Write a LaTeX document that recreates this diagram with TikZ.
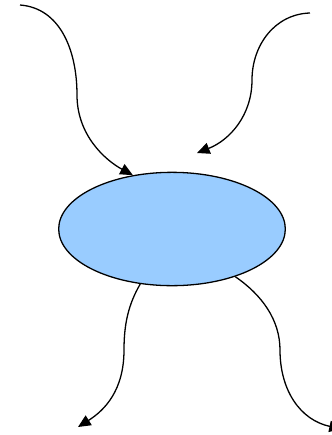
\documentclass[tikz,border=0pt]{standalone}
\usepackage{tikz}
\usetikzlibrary{arrows.meta,shapes.geometric}
\definecolor{zelle}{HTML}{99CCFF}
\tikzset{
  fluss/.style={-{Triangle[length=3.8mm,width=3.4mm]},black,line width=1.1pt},
  knoten/.style={ellipse,fill=zelle,draw=black,line width=1.1pt,minimum width=6.8cm,minimum height=3.4cm,inner sep=0pt},
}
\begin{document}
\begin{tikzpicture}[x=0.03cm,y=-0.03cm]
  \useasboundingbox (0,0) rectangle (332,435);
  \node[knoten] (zelle) at (172,229) {};
  \coordinate (ein1) at (20,5);
  \coordinate (ein2) at (310,13);
  \coordinate (ziel2) at (197,153);
  \coordinate (aus1) at (78,427);
  \coordinate (aus2) at (342,429);
  \draw[fluss] (ein1) .. controls (60,8) and (77,50) .. (77,95)
    .. controls (77,135) and (105,160) .. (zelle.126);
  \draw[fluss] (ein2) .. controls (275,14) and (252,45) .. (252,80)
    .. controls (252,115) and (230,140) .. (ziel2);
  \draw[fluss] (zelle.240) .. controls (128,305) and (124,325) .. (124,350)
    .. controls (124,390) and (105,410) .. (aus1);
  \draw[fluss] (zelle.323) .. controls (262,295) and (280,320) .. (280,350)
    .. controls (280,390) and (300,420) .. (aus2);
\end{tikzpicture}
\end{document}
